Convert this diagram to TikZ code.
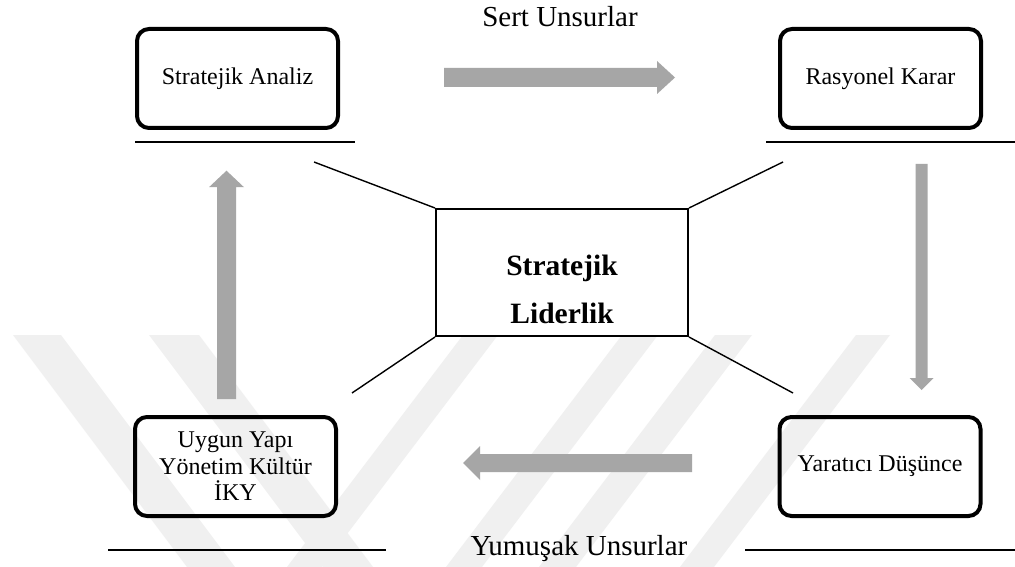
\documentclass[tikz,border=0pt]{standalone}
\usepackage{fontspec}
\setmainfont{Liberation Serif}
\usetikzlibrary{calc}
\definecolor{arrowgray}{HTML}{A6A6A6}
\definecolor{markgray}{HTML}{F0F0F0}

\begin{document}
\begin{tikzpicture}[x=1pt,y=-1pt,
  stagebox/.style={draw, line width=4pt, rounded corners=12pt,
    minimum width=201pt, minimum height=99pt, inner sep=0pt, align=center,
    font=\fontsize{24}{26.5}\selectfont},
  corebox/.style={draw, line width=1.6pt, fill=white,
    minimum width=252.4pt, minimum height=127.4pt, inner sep=0pt},
  coretext/.style={align=center, inner sep=0pt,
    font=\fontsize{29.5}{48}\selectfont\bfseries},
  caption/.style={inner sep=0pt, anchor=base, font=\fontsize{29}{32}\selectfont},
  baseline rule/.style={line width=2pt},
  spoke/.style={line width=1.4pt},
  blockarrow/.style={fill=arrowgray},
  wmstripe/.style={fill=markgray},
]
\useasboundingbox (0,0) rectangle (1015,567);
\fill[white] (0,0) rectangle (1015,567);

% faint diagonal watermark bands in the lower half
\begin{scope}
  \fill[wmstripe] (13,335) -- (61,335) -- (235,567) -- (187,567) -- cycle;
  \fill[wmstripe] (149,335) -- (199,335) -- (373,567) -- (323,567) -- cycle;
  \fill[wmstripe] (287,567) -- (322,567) -- (498,335) -- (463,335) -- cycle;
  \fill[wmstripe] (446,567) -- (482,567) -- (658,335) -- (622,335) -- cycle;
  \fill[wmstripe] (539,567) -- (576,567) -- (752,335) -- (715,335) -- cycle;
  \fill[wmstripe] (680,567) -- (714,567) -- (890,335) -- (856,335) -- cycle;
\end{scope}

% four stage boxes
\node[stagebox] (sa) at (237.5,78.5) {Stratejik Analiz};
\node[stagebox] (rk) at (880.5,78.5) {Rasyonel Karar};
\node[stagebox] (uy) at (235.5,466.5) {Uygun Yapı\\Yönetim Kültür\\İKY};
\node[stagebox] (yd) at (880,466.5) {Yaratıcı Düşünce};

% rules under the boxes
\coordinate (r1a) at (135,142);   \coordinate (r1b) at (355,142);
\coordinate (r2a) at (766,142);   \coordinate (r2b) at (1015,142);
\coordinate (r3a) at (108,549.5); \coordinate (r3b) at (386,549.5);
\coordinate (r4a) at (745,549.5); \coordinate (r4b) at (1015,549.5);
\draw[baseline rule] (r1a) -- (r1b);
\draw[baseline rule] (r2a) -- (r2b);
\draw[baseline rule] (r3a) -- (r3b);
\draw[baseline rule] (r4a) -- (r4b);

% central box with its four spokes
\node[corebox] (sl) at (562,272.5) {};
\node[coretext] (slt) at ($(sl.center)+(0,16.5)$) {Stratejik\\Liderlik};
\coordinate (ktl) at (314,162);
\coordinate (ktr) at (783,162);
\coordinate (kbl) at (352,393);
\coordinate (kbr) at (793,393);
\draw[spoke] (sl.north west) -- (ktl);
\draw[spoke] (sl.north east) -- (ktr);
\draw[spoke] (sl.south west) -- (kbl);
\draw[spoke] (sl.south east) -- (kbr);

% captions
\node[caption] (sert) at (560,26.7) {Sert Unsurlar};
\node[caption] (yum) at (579,555) {Yumuşak Unsurlar};

% block arrows of the cycle
\coordinate (a1s) at (444,77.5);  \coordinate (a1t) at (675,77.5);
\fill[blockarrow] ($(a1s)+(0,-9.5)$) -- ($(a1t)+(-18,-9.5)$) -- ($(a1t)+(-18,-16.5)$)
  -- (a1t) -- ($(a1t)+(-18,16.5)$) -- ($(a1t)+(-18,9.5)$) -- ($(a1s)+(0,9.5)$) -- cycle;

\coordinate (a2s) at (921.7,164); \coordinate (a2t) at (921.7,390);
\fill[blockarrow] ($(a2s)+(-6,0)$) -- ($(a2t)+(-6,-12)$) -- ($(a2t)+(-12,-12)$)
  -- (a2t) -- ($(a2t)+(12,-12)$) -- ($(a2t)+(6,-12)$) -- ($(a2s)+(6,0)$) -- cycle;

\coordinate (a3s) at (692,463);   \coordinate (a3t) at (463,463);
\fill[blockarrow] ($(a3s)+(0,-9)$) -- ($(a3t)+(17,-9)$) -- ($(a3t)+(17,-17)$)
  -- (a3t) -- ($(a3t)+(17,17)$) -- ($(a3t)+(17,9)$) -- ($(a3s)+(0,9)$) -- cycle;

\coordinate (a4s) at (226.5,399); \coordinate (a4t) at (226.5,170.7);
\fill[blockarrow] ($(a4s)+(-9.5,0)$) -- ($(a4t)+(-9.5,16.5)$) -- ($(a4t)+(-17.5,16.5)$)
  -- (a4t) -- ($(a4t)+(17.5,16.5)$) -- ($(a4t)+(9.5,16.5)$) -- ($(a4s)+(9.5,0)$) -- cycle;

\end{tikzpicture}
\end{document}
